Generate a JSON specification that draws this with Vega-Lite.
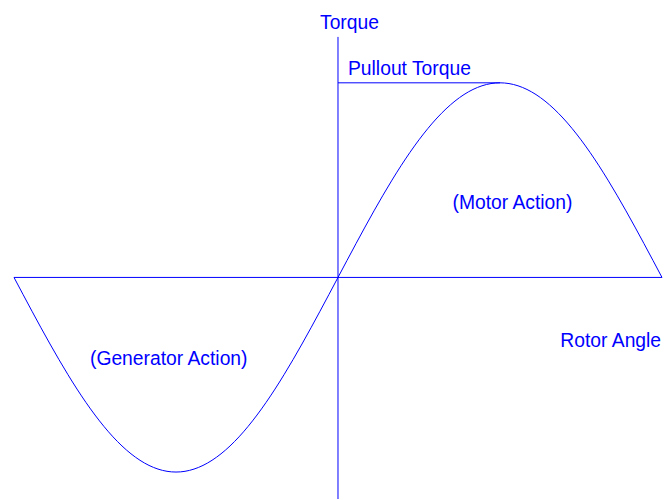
{
  "$schema": "https://vega.github.io/schema/vega-lite/v6.json",
  "width": 665,
  "height": 500,
  "autosize": {"type": "fit", "contains": "padding"},
  "padding": 0,
  "background": "white",
  "config": {"view": {"stroke": null}},
  "datasets": {
    "curve": [
      {"angle": -180, "torque": 0},
      {"angle": -175, "torque": -0.0872},
      {"angle": -170, "torque": -0.1736},
      {"angle": -165, "torque": -0.2588},
      {"angle": -160, "torque": -0.342},
      {"angle": -155, "torque": -0.4226},
      {"angle": -150, "torque": -0.5},
      {"angle": -145, "torque": -0.5736},
      {"angle": -140, "torque": -0.6428},
      {"angle": -135, "torque": -0.7071},
      {"angle": -130, "torque": -0.766},
      {"angle": -125, "torque": -0.8192},
      {"angle": -120, "torque": -0.866},
      {"angle": -115, "torque": -0.9063},
      {"angle": -110, "torque": -0.9397},
      {"angle": -105, "torque": -0.9659},
      {"angle": -100, "torque": -0.9848},
      {"angle": -95, "torque": -0.9962},
      {"angle": -90, "torque": -1},
      {"angle": -85, "torque": -0.9962},
      {"angle": -80, "torque": -0.9848},
      {"angle": -75, "torque": -0.9659},
      {"angle": -70, "torque": -0.9397},
      {"angle": -65, "torque": -0.9063},
      {"angle": -60, "torque": -0.866},
      {"angle": -55, "torque": -0.8192},
      {"angle": -50, "torque": -0.766},
      {"angle": -45, "torque": -0.7071},
      {"angle": -40, "torque": -0.6428},
      {"angle": -35, "torque": -0.5736},
      {"angle": -30, "torque": -0.5},
      {"angle": -25, "torque": -0.4226},
      {"angle": -20, "torque": -0.342},
      {"angle": -15, "torque": -0.2588},
      {"angle": -10, "torque": -0.1736},
      {"angle": -5, "torque": -0.0872},
      {"angle": 0, "torque": 0},
      {"angle": 5, "torque": 0.0872},
      {"angle": 10, "torque": 0.1736},
      {"angle": 15, "torque": 0.2588},
      {"angle": 20, "torque": 0.342},
      {"angle": 25, "torque": 0.4226},
      {"angle": 30, "torque": 0.5},
      {"angle": 35, "torque": 0.5736},
      {"angle": 40, "torque": 0.6428},
      {"angle": 45, "torque": 0.7071},
      {"angle": 50, "torque": 0.766},
      {"angle": 55, "torque": 0.8192},
      {"angle": 60, "torque": 0.866},
      {"angle": 65, "torque": 0.9063},
      {"angle": 70, "torque": 0.9397},
      {"angle": 75, "torque": 0.9659},
      {"angle": 80, "torque": 0.9848},
      {"angle": 85, "torque": 0.9962},
      {"angle": 90, "torque": 1},
      {"angle": 95, "torque": 0.9962},
      {"angle": 100, "torque": 0.9848},
      {"angle": 105, "torque": 0.9659},
      {"angle": 110, "torque": 0.9397},
      {"angle": 115, "torque": 0.9063},
      {"angle": 120, "torque": 0.866},
      {"angle": 125, "torque": 0.8192},
      {"angle": 130, "torque": 0.766},
      {"angle": 135, "torque": 0.7071},
      {"angle": 140, "torque": 0.6428},
      {"angle": 145, "torque": 0.5736},
      {"angle": 150, "torque": 0.5},
      {"angle": 155, "torque": 0.4226},
      {"angle": 160, "torque": 0.342},
      {"angle": 165, "torque": 0.2588},
      {"angle": 170, "torque": 0.1736},
      {"angle": 175, "torque": 0.0872},
      {"angle": 180, "torque": 0}
    ],
    "rules": [
      {"name": "torque axis", "x1": 0, "x2": 0, "y1": 1.236, "y2": -1.1385},
      {"name": "angle axis", "x1": -180, "x2": 180, "y1": 0, "y2": 0},
      {"name": "pullout", "x1": 0, "x2": 90, "y1": 1, "y2": 1}
    ],
    "labels": [
      {"label": "Torque", "x": -10, "y": 1.277},
      {"label": "Pullout Torque", "x": 5.56, "y": 1.041},
      {"label": "(Motor Action)", "x": 63.6, "y": 0.354},
      {"label": "(Generator Action)", "x": -137.8, "y": -0.451}
    ],
    "rightLabels": [
      {"label": "Rotor Angle", "x": 179.5, "y": -0.359}
    ]
  },
  "layer": [
    {
      "data": {"name": "rules"},
      "mark": {"type": "rule", "color": "#0000ff", "strokeWidth": 1},
      "encoding": {
        "x": {"field": "x1", "type": "quantitative", "scale": {"domain": [-187.78, 181.67], "nice": false, "zero": false}, "axis": null},
        "x2": {"field": "x2"},
        "y": {"field": "y1", "type": "quantitative", "scale": {"domain": [-1.1385, 1.4256], "nice": false, "zero": false}, "axis": null},
        "y2": {"field": "y2"}
      }
    },
    {
      "data": {"name": "curve"},
      "mark": {"type": "line", "color": "#0000ff", "strokeWidth": 1, "interpolate": "monotone"},
      "encoding": {
        "x": {"field": "angle", "type": "quantitative", "axis": null},
        "y": {"field": "torque", "type": "quantitative", "axis": null},
        "order": {"field": "angle", "type": "quantitative"}
      }
    },
    {
      "data": {"name": "labels"},
      "mark": {"type": "text", "color": "#0000ff", "font": "Liberation Sans", "fontSize": 19.3, "align": "left", "baseline": "alphabetic"},
      "encoding": {
        "x": {"field": "x", "type": "quantitative", "axis": null},
        "y": {"field": "y", "type": "quantitative", "axis": null},
        "text": {"field": "label"}
      }
    },
    {
      "data": {"name": "rightLabels"},
      "mark": {"type": "text", "color": "#0000ff", "font": "Liberation Sans", "fontSize": 19.3, "align": "right", "baseline": "alphabetic"},
      "encoding": {
        "x": {"field": "x", "type": "quantitative", "axis": null},
        "y": {"field": "y", "type": "quantitative", "axis": null},
        "text": {"field": "label"}
      }
    }
  ]
}
